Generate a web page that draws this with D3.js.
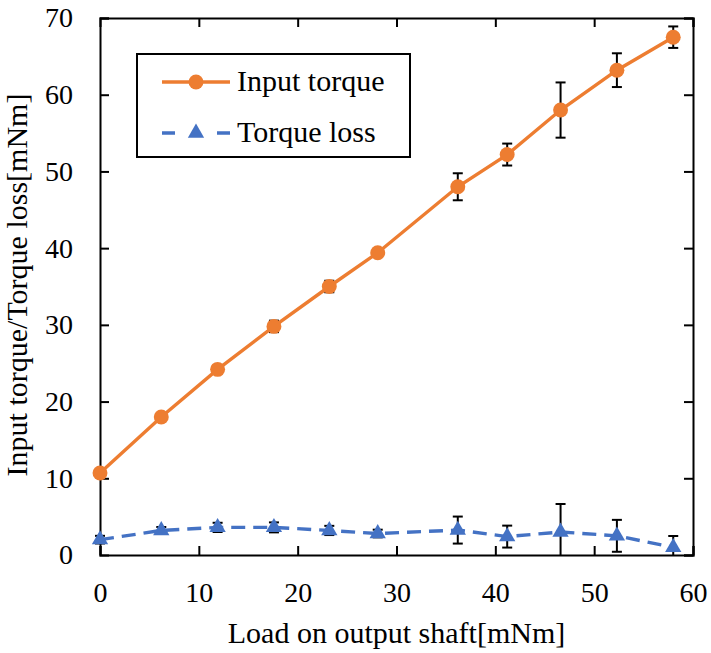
<!DOCTYPE html>
<html>
<head>
<meta charset="utf-8">
<script src="https://cdn.jsdelivr.net/npm/d3@7"></script>
<style>
  body { margin: 0; background: #fff; }
</style>
</head>
<body>
<script>
// data
var load = [0, 6.2, 11.9, 17.6, 23.2, 28.1, 36.2, 41.2, 46.6, 52.3, 58.0];
var inputTorque = [10.7, 18.0, 24.2, 29.8, 35.0, 39.4, 48.0, 52.2, 58.0, 63.2, 67.5];
var inputErr = [0.3, 0.2, 0.2, 0.75, 0.75, 0.2, 1.76, 1.43, 3.6, 2.2, 1.4];
var torqueLoss = [2.0, 3.2, 3.6, 3.6, 3.2, 2.8, 3.25, 2.4, 3.0, 2.5, 1.0];
var lossErr = [0.5, 0.45, 0.6, 0.65, 0.6, 0.5, 1.76, 1.43, 3.65, 2.08, 1.48];
var xTicks = [0, 10, 20, 30, 40, 50, 60];
var yTicks = [0, 10, 20, 30, 40, 50, 60, 70];

window.onload = () => {
  var W = 711, H = 653;
  var margin = { top: 18, right: 18, bottom: 98, left: 100 },
    width = W - margin.left - margin.right,
    height = H - margin.top - margin.bottom;

  var orange = "#ED7D31", blue = "#4472C4";
  var serif = "'Liberation Serif'";

  var x = d3.scaleLinear().domain([0, 60]).range([0, width]);
  var y = d3.scaleLinear().domain([0, 70]).range([height, 0]);

  var svg = d3.select("body").append("svg")
    .attr("width", W).attr("height", H)
    .append("g")
    .attr("transform", "translate(" + margin.left + "," + margin.top + ")");

  // axes with inward ticks on all four sides
  var tl = 9;
  var bottom = svg.append("g").attr("transform", "translate(0," + height + ")")
    .call(d3.axisBottom(x).tickValues(xTicks).tickSize(-tl).tickPadding(27));
  var left = svg.append("g")
    .call(d3.axisLeft(y).tickValues(yTicks).tickSize(-tl).tickPadding(27));
  var top = svg.append("g")
    .call(d3.axisTop(x).tickValues(xTicks).tickSize(-tl).tickFormat(""));
  var right = svg.append("g").attr("transform", "translate(" + width + ",0)")
    .call(d3.axisRight(y).tickValues(yTicks).tickSize(-tl).tickFormat(""));

  [bottom, left, top, right].forEach(function (g) {
    g.selectAll("path").attr("stroke", "#000").attr("stroke-width", 2);
    g.selectAll("line").attr("stroke", "#000").attr("stroke-width", 2);
    g.selectAll("text")
      .attr("font-family", serif)
      .attr("font-size", 28)
      .attr("fill", "#000");
  });
  top.select(".tick:first-of-type line").remove();
  left.select(".tick:first-of-type line").remove();

  // axis titles
  svg.append("text")
    .attr("x", width / 2)
    .attr("y", height + 88)
    .attr("text-anchor", "middle")
    .attr("font-family", serif)
    .attr("font-size", 30)
    .text("Load on output shaft[mNm]");

  svg.append("text")
    .attr("transform", "rotate(-90)")
    .attr("x", -267)
    .attr("y", -73)
    .attr("text-anchor", "middle")
    .attr("font-family", serif)
    .attr("font-size", 30)
    .text("Input torque/Torque loss[mNm]");

  var series = [
    { name: "Input torque", vals: inputTorque, err: inputErr, color: orange, dash: null, marker: "circle" },
    { name: "Torque loss", vals: torqueLoss, err: lossErr, color: blue, dash: "14,8", marker: "triangle" }
  ];

  var line = d3.line()
    .x(function (d) { return x(d[0]); })
    .y(function (d) { return y(d[1]); });

  var circleSym = d3.symbol().type(d3.symbolCircle).size(175);
  var triSym = d3.symbol().type(d3.symbolTriangle).size(115);

  series.forEach(function (s) {
    var pts = load.map(function (v, i) { return [v, s.vals[i], s.err[i]]; });

    // error bars (drawn under the markers)
    var eb = svg.selectAll(null)
      .data(pts)
      .enter()
      .append("g")
      .attr("stroke", "#000")
      .attr("stroke-width", 2);
    eb.append("line")
      .attr("x1", function (d) { return x(d[0]); })
      .attr("x2", function (d) { return x(d[0]); })
      .attr("y1", function (d) { return y(d[1] + d[2]); })
      .attr("y2", function (d) { return Math.min(height, y(d[1] - d[2])); });
    eb.append("line")
      .attr("x1", function (d) { return x(d[0]) - 5; })
      .attr("x2", function (d) { return x(d[0]) + 5; })
      .attr("y1", function (d) { return y(d[1] + d[2]); })
      .attr("y2", function (d) { return y(d[1] + d[2]); });
    eb.filter(function (d) { return y(d[1] - d[2]) < height - 2; })
      .append("line")
      .attr("x1", function (d) { return x(d[0]) - 5; })
      .attr("x2", function (d) { return x(d[0]) + 5; })
      .attr("y1", function (d) { return y(d[1] - d[2]); })
      .attr("y2", function (d) { return y(d[1] - d[2]); });

    svg.append("path")
      .datum(pts)
      .attr("fill", "none")
      .attr("stroke", s.color)
      .attr("stroke-width", 3.4)
      .attr("stroke-dasharray", s.dash)
      .attr("d", line);

    svg.selectAll(null)
      .data(pts)
      .enter()
      .append("path")
      .attr("transform", function (d) { return "translate(" + x(d[0]) + "," + y(d[1]) + ")"; })
      .attr("d", s.marker === "circle" ? circleSym : triSym)
      .attr("fill", s.color);
  });

  // legend
  var lg = svg.append("g").attr("transform", "translate(37,36)");
  lg.append("rect")
    .attr("width", 273).attr("height", 103)
    .attr("fill", "#fff").attr("stroke", "#000").attr("stroke-width", 2);
  series.forEach(function (s, i) {
    var ly = 28 + i * 51;
    lg.append("line")
      .attr("x1", 25).attr("x2", 93)
      .attr("y1", ly).attr("y2", ly)
      .attr("stroke", s.color).attr("stroke-width", 3.4)
      .attr("stroke-dasharray", s.dash ? "13,42,13" : null);
    lg.append("path")
      .attr("transform", "translate(59," + ly + ")")
      .attr("d", s.marker === "circle" ? circleSym : triSym)
      .attr("fill", s.color);
    lg.append("text")
      .attr("x", 100).attr("y", ly + 9)
      .attr("font-family", serif)
      .attr("font-size", 30)
      .text(s.name);
  });
};
</script>
</body>
</html>
